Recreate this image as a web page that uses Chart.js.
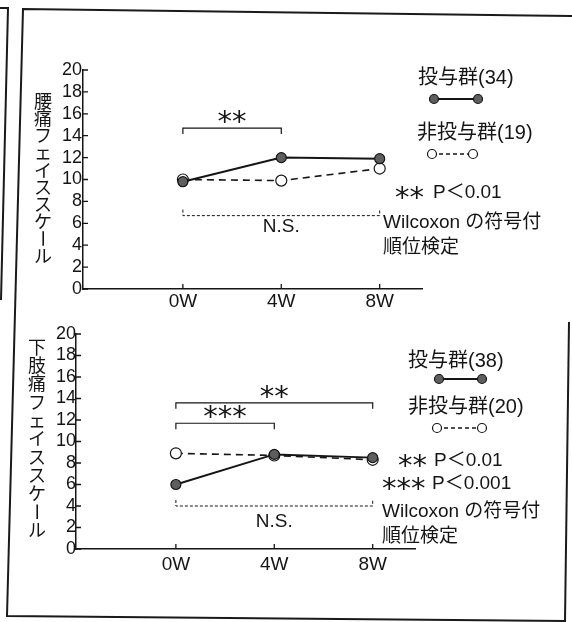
<!DOCTYPE html>
<html>
<head>
<meta charset="utf-8">
<script src="https://cdn.jsdelivr.net/npm/chart.js@4.4.1/dist/chart.umd.min.js"></script>
<style>
  html, body { margin: 0; padding: 0; background: #fff; }
  #wrap { position: relative; width: 572px; height: 622px; overflow: hidden; }
  #frame { position: absolute; left: 0; top: 0; }
  canvas { position: absolute; left: 0; }
</style>
</head>
<body>
<div id="wrap">
  <svg id="frame" width="572" height="622">
    <g stroke="#1a1a1a" stroke-width="2" fill="none">
      <polyline points="0,8 8,8 1,300" />
      <polyline points="572,16 23,9 7,616 566,621" />
      <line x1="569" y1="322" x2="565" y2="622" />
    </g>
  </svg>
  <canvas id="backChart" width="572" height="310" style="top:0"></canvas>
  <canvas id="legChart" width="572" height="312" style="top:310px"></canvas>
</div>
<script>
// weeks on the x axis
const weeks = [0, 4, 8];
const weekLabels = ['0W', '4W', '8W'];

// upper panel: low back pain face scale
const backTreated = [9.8, 12.0, 11.9];
const backUntreated = [10.0, 9.9, 11.0];
const backGroups = ['投与群(34)', '非投与群(19)'];
const backBrackets = [[0, 4, 14.7, '**']];
const backNS = [0, 8, 6.7];
const backNotes = [['**', 'P＜0.01']];

// lower panel: leg pain face scale
const legTreated = [6.0, 8.8, 8.5];
const legUntreated = [8.9, 8.7, 8.3];
const legGroups = ['投与群(38)', '非投与群(20)'];
const legBrackets = [[0, 8, 13.6, '**'], [0, 4, 11.7, '***']];
const legNS = [0, 8, 4.0];
const legNotes = [['**', 'P＜0.01'], ['***', 'P＜0.001']];

const testName = ['Wilcoxon の符号付', '順位検定'];

const INK = '#151515';
const FONT = '"Liberation Sans", "Noto Sans CJK JP", sans-serif';
Chart.defaults.font.family = FONT;
Chart.defaults.color = INK;

function seriesPoints(values) {
    return weeks.map((w, i) => ({ x: w, y: values[i] }));
}

// asterisks are drawn a bit bigger and centred on yc
function starText(ctx, text, x, yc, align) {
    ctx.font = '29px "DejaVu Sans"';
    ctx.textAlign = align;
    ctx.textBaseline = 'alphabetic';
    const m = ctx.measureText(text);
    ctx.fillText(text, x, yc + (m.actualBoundingBoxAscent - m.actualBoundingBoxDescent) / 2);
}

function overlay(p) {
    return {
        id: 'overlay',
        afterDatasetsDraw(chart) {
            const ctx = chart.ctx;
            const xs = chart.scales.x;
            const ys = chart.scales.y;
            const area = chart.chartArea;
            ctx.save();
            ctx.strokeStyle = INK;
            ctx.fillStyle = INK;

            // ticks pointing into the plot
            ctx.lineWidth = 1.3;
            ctx.beginPath();
            ys.ticks.forEach(t => {
                const y = ys.getPixelForValue(t.value);
                ctx.moveTo(area.left, y);
                ctx.lineTo(area.left + 5, y);
            });
            xs.ticks.forEach(t => {
                const x = xs.getPixelForValue(t.value);
                ctx.moveTo(x, area.bottom);
                ctx.lineTo(x, area.bottom - 5);
            });
            ctx.stroke();

            // significance brackets
            ctx.lineWidth = 1.2;
            p.brackets.forEach(([a, b, level, stars]) => {
                const x1 = xs.getPixelForValue(a);
                const x2 = xs.getPixelForValue(b);
                const y = ys.getPixelForValue(level);
                ctx.beginPath();
                ctx.moveTo(x1, y + 6);
                ctx.lineTo(x1, y);
                ctx.lineTo(x2, y);
                ctx.lineTo(x2, y + 6);
                ctx.stroke();
                starText(ctx, stars, (x1 + x2) / 2, y - 11, 'center');
            });

            // N.S. bracket (dashed, ends up)
            const [na, nb, nLevel] = p.ns;
            const nx1 = xs.getPixelForValue(na);
            const nx2 = xs.getPixelForValue(nb);
            const ny = ys.getPixelForValue(nLevel);
            ctx.lineWidth = 1;
            ctx.setLineDash([3, 2]);
            ctx.beginPath();
            ctx.moveTo(nx1, ny - 6);
            ctx.lineTo(nx1, ny);
            ctx.lineTo(nx2, ny);
            ctx.lineTo(nx2, ny - 6);
            ctx.stroke();
            ctx.setLineDash([]);
            ctx.font = '19px ' + FONT;
            ctx.textAlign = 'center';
            ctx.textBaseline = 'middle';
            ctx.fillText('N.S.', xs.getPixelForValue((na + nb) / 2), ny + p.nsDy);

            // vertical axis title
            ctx.font = '18px "Noto Sans CJK JP"';
            Array.from(p.title).forEach((ch, i) => {
                const cy = p.titleY + i * p.titleStep;
                if (ch === 'ー') {
                    ctx.save();
                    ctx.translate(p.titleX, cy);
                    ctx.rotate(Math.PI / 2);
                    ctx.fillText(ch, 0, 0);
                    ctx.restore();
                } else {
                    ctx.fillText(ch, p.titleX, cy);
                }
            });

            // legend
            chart.data.datasets.forEach((ds, i) => {
                const lg = p.legend[i];
                ctx.font = '20px ' + FONT;
                ctx.textAlign = 'left';
                ctx.textBaseline = 'middle';
                ctx.fillStyle = INK;
                ctx.fillText(ds.label, lg.x, lg.y);
                ctx.lineWidth = ds.borderWidth;
                ctx.setLineDash(ds.borderDash ? [4, 3] : []);
                ctx.beginPath();
                ctx.moveTo(lg.x1, lg.sy);
                ctx.lineTo(lg.x2, lg.sy);
                ctx.stroke();
                ctx.setLineDash([]);
                ctx.lineWidth = 1.2;
                [lg.x1, lg.x2].forEach(x => {
                    ctx.beginPath();
                    ctx.arc(x, lg.sy, 4.5, 0, Math.PI * 2);
                    ctx.fillStyle = ds.pointBackgroundColor;
                    ctx.fill();
                    ctx.stroke();
                });
                ctx.fillStyle = INK;
            });

            // notes on the right
            p.notes.forEach(([stars, text], i) => {
                const n = p.notePos[i];
                starText(ctx, stars, n.sx, n.y, 'left');
                ctx.font = '19px ' + FONT;
                ctx.textAlign = 'left';
                ctx.textBaseline = 'middle';
                ctx.fillText(text, n.tx, n.y);
            });
            testName.forEach((line, i) => {
                ctx.fillText(line, p.testX, p.testY[i]);
            });

            ctx.restore();
        }
    };
}

function makePanel(id, treated, untreated, groups, p) {
    return new Chart(document.getElementById(id), {
        type: 'line',
        data: {
            datasets: [{
                label: groups[0],
                data: seriesPoints(treated),
                borderColor: INK,
                borderWidth: 2,
                pointRadius: 5,
                pointBackgroundColor: '#5e5e5e',
                pointBorderColor: INK,
                pointBorderWidth: 1.2
            }, {
                label: groups[1],
                data: seriesPoints(untreated),
                borderColor: INK,
                borderWidth: 1.6,
                borderDash: [7, 5],
                pointRadius: 5.5,
                pointBackgroundColor: '#ffffff',
                pointBorderColor: INK,
                pointBorderWidth: 1.2
            }]
        },
        options: {
            responsive: false,
            animation: false,
            layout: { padding: p.padding },
            plugins: {
                legend: { display: false },
                tooltip: { enabled: false }
            },
            scales: {
                x: {
                    type: 'linear',
                    min: -4.06,
                    max: 9.72,
                    afterBuildTicks: s => { s.ticks = weeks.map(v => ({ value: v })); },
                    afterFit: s => { s.height = p.xHeight; },
                    grid: { drawOnChartArea: false, drawTicks: false },
                    border: { color: INK, width: 1.5 },
                    ticks: {
                        autoSkip: false,
                        maxRotation: 0,
                        padding: p.xPad,
                        font: { size: 19 },
                        callback: (v, i) => weekLabels[i]
                    }
                },
                y: {
                    min: 0,
                    max: 20,
                    afterFit: s => { s.width = p.yWidth; },
                    grid: { drawOnChartArea: false, drawTicks: false },
                    border: { color: INK, width: 1.5 },
                    ticks: { stepSize: 2, autoSkip: false, padding: p.yPad, font: { size: 18 } }
                }
            }
        },
        plugins: [overlay(p)]
    });
}

makePanel('backChart', backTreated, backUntreated, backGroups, {
    padding: { top: 70, right: 150, left: 0, bottom: 0 },
    xHeight: 21, xPad: 1, yWidth: 83, yPad: 1,
    brackets: backBrackets, ns: backNS, nsDy: 11,
    title: '腰痛フェイススケール', titleX: 43, titleY: 101, titleStep: 17.2,
    legend: [
        { x: 418, y: 78, x1: 434, x2: 478, sy: 99 },
        { x: 417, y: 133, x1: 432, x2: 473, sy: 154 }
    ],
    notes: backNotes,
    notePos: [{ sx: 395, tx: 433, y: 193 }],
    testX: 383, testY: [223, 248]
});

makePanel('legChart', legTreated, legUntreated, legGroups, {
    padding: { top: 24, right: 157, left: 0, bottom: 0 },
    xHeight: 73, xPad: 4, yWidth: 76, yPad: 0,
    brackets: legBrackets, ns: legNS, nsDy: 16,
    title: '下肢痛フェイススケール', titleX: 37, titleY: 37, titleStep: 18.3,
    legend: [
        { x: 408, y: 51, x1: 439, x2: 482, sy: 69 },
        { x: 408, y: 97, x1: 437, x2: 482, sy: 118 }
    ],
    notes: legNotes,
    notePos: [{ sx: 398, tx: 434, y: 151 }, { sx: 382, tx: 432, y: 174 }],
    testX: 382, testY: [202, 227]
});
</script>
</body>
</html>
